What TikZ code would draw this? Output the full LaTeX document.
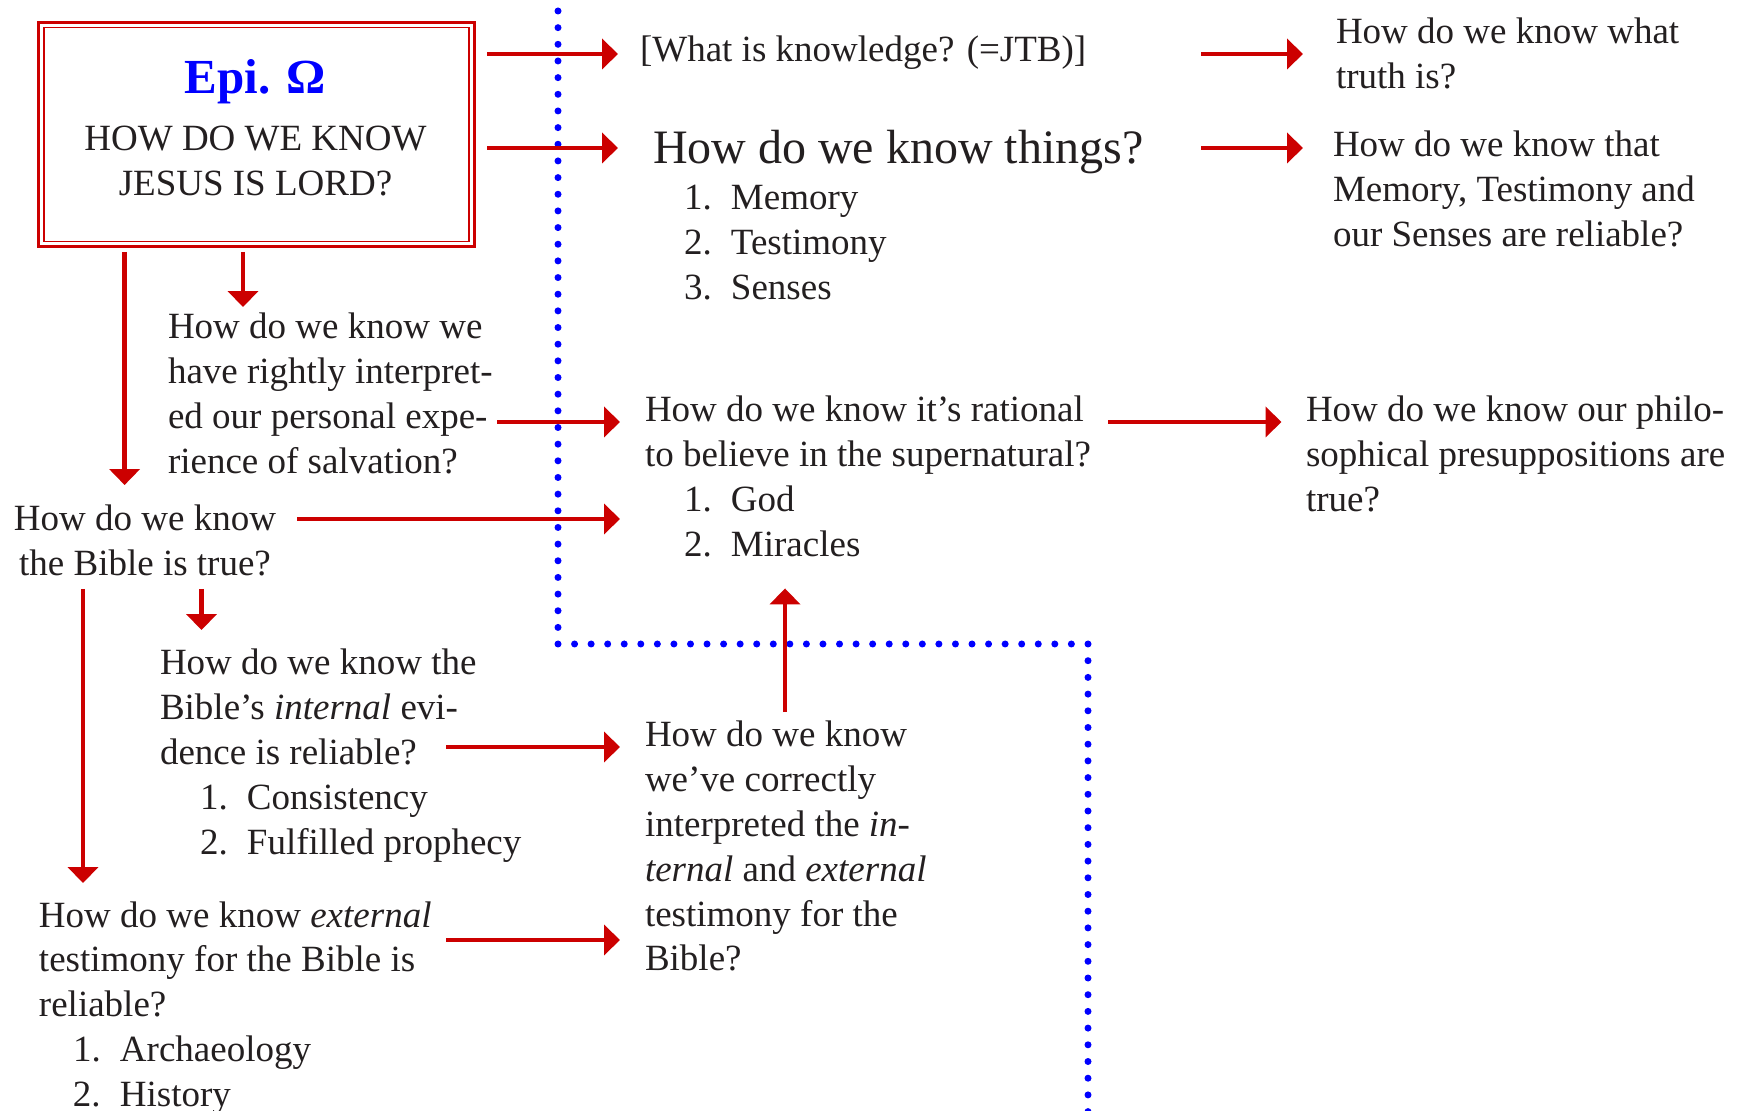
\documentclass[tikz,border=0pt]{standalone}
\usepackage{fontspec}
\setmainfont{Liberation Serif}
\usetikzlibrary{arrows.meta,calc}
\definecolor{arrred}{RGB}{204,0,0}
\definecolor{txtc}{RGB}{35,31,32}
\newcommand{\mlines}[1]{\begin{tabular}[t]{@{}l@{}}#1\end{tabular}}
\newcommand{\mlinesc}[1]{\begin{tabular}[t]{@{}c@{}}#1\end{tabular}}
\newcommand{\nb}[1]{\makebox[23.5pt][l]{#1}}
\begin{document}
\begin{tikzpicture}[x=0.5pt,y=-0.5pt,
 txt/.style={anchor=base west, inner sep=0pt, outer sep=0pt, text=txtc, font=\fontsize{18.5pt}{22.4pt}\selectfont},
 arr/.style={draw=arrred, line width=2.2pt, -{Triangle[length=8pt,width=15pt]}},
 dotline/.style={draw=blue, line width=3.5pt, line cap=round}]
\useasboundingbox (0,0) rectangle (1745,1111);

% dotted divider
\draw[dotline, dash pattern=on 0pt off 8.33pt] (558,11) -- (558,638);
\draw[dotline, dash pattern=on 0pt off 8.28pt] (558,644) -- (1080,644);
\draw[dotline, dash pattern=on 0pt off 8.35pt] (1088,644) -- (1088,1118);

% title box
\node[draw=arrred, line width=1.65pt, inner sep=0pt, outer sep=0pt, minimum width=217.9pt, minimum height=111.9pt] (box) at (256.5,134.5) {};
\draw[arrred, line width=0.75pt] ($(box.north west)+(5.2,5)$) rectangle ($(box.south east)+(-5.2,-5)$);
\node[anchor=base, inner sep=0pt, text=blue, font=\fontsize{24.5pt}{28pt}\selectfont\bfseries] (epi) at (255.5,94) {Epi. Ω};
\node[txt, anchor=base] (jesus) at (255.5,151) {\mlinesc{HOW DO WE KNOW\\JESUS IS LORD?}};

% text nodes
\node[txt] (knowl) at (640,62) {[What is knowledge? (=JTB)]};
\node[txt] (truth) at (1336,44) {\mlines{How do we know what\\truth is?}};
\node[txt, font=\fontsize{24pt}{28pt}\selectfont] (things) at (653,164) {How do we know things?};
\node[txt] (thlist) at (684,210) {\mlines{\nb{1.}Memory\\\nb{2.}Testimony\\\nb{3.}Senses}};
\node[txt] (mts) at (1333,157) {\mlines{How do we know that\\Memory, Testimony and\\our Senses are reliable?}};
\node[txt] (rightly) at (168,339) {\mlines{How do we know we\\have rightly interpret-\\ed our personal expe-\\rience of salvation?}};
\node[txt, anchor=base] (bible) at (145,531) {\mlinesc{How do we know\\the Bible is true?}};
\node[txt] (rational) at (645,422) {\mlines{How do we know it’s rational\\to believe in the supernatural?\\\hspace*{19.5pt}\nb{1.}God\\\hspace*{19.5pt}\nb{2.}Miracles}};
\node[txt] (philo) at (1306,422) {\mlines{How do we know our philo-\\sophical presuppositions are\\true?}};
\node[txt] (internal) at (160,675) {\mlines{How do we know the\\Bible’s \textit{internal} evi-\\dence is reliable?\\\hspace*{20pt}\nb{1.}Consistency\\\hspace*{20pt}\nb{2.}Fulfilled prophecy}};
\node[txt] (external) at (39,927) {\mlines{How do we know \textit{external}\\testimony for the Bible is\\reliable?\\\hspace*{17pt}\nb{1.}Archaeology\\\hspace*{17pt}\nb{2.}History}};
\node[txt] (correctly) at (645,747) {\mlines{How do we know\\we’ve correctly\\interpreted the \textit{in-}\\\textit{ternal} and \textit{external}\\testimony for the\\Bible?}};

% connectors
\draw[arr] ($(box.east|-0,54)+(12.6,0)$) -- ($(knowl.west|-0,54)+(-22,0)$);
\draw[arr] ($(box.east|-0,148)+(12.6,0)$) -- ($(things.west|-0,148)+(-35,0)$);
\draw[arr] ($(truth.west|-0,54)+(-135,0)$) -- ($(truth.west|-0,54)+(-33,0)$);
\draw[arr] ($(mts.west|-0,148)+(-132,0)$) -- ($(mts.west|-0,148)+(-30,0)$);
\draw[arr] ($(box.south)+(-13.5,5.6)$) -- ($(box.south|-rightly.north)+(-13.5,-0.6)$);
\draw[arr] ($(box.south west)+(86,5.6)$) -- ($(box.south west|-bible.north)+(86,-14.6)$);
\draw[arr] ($(rightly.west|-0,422)+(329,0)$) -- ($(rational.west|-0,422)+(-25,0)$);
\draw[arr] ($(bible.east|-0,519)+(21,0)$) -- ($(rational.west|-0,519)+(-25,0)$);
\draw[arr] ($(bible.south)+(56.5,-0.4)$) -- ($(bible.south|-internal.north)+(56.5,-13.6)$);
\draw[arr] ($(bible.south)+(-62,-0.4)$) -- ($(bible.south|-external.north)+(-62,-12.6)$);
\draw[arr] ($(internal.west|-0,747)+(286,0)$) -- ($(correctly.west|-0,747)+(-25,0)$);
\draw[arr] ($(external.west|-0,940)+(407,0)$) -- ($(correctly.west|-0,940)+(-25,0)$);
\draw[arr] ($(correctly.north west)+(140,-3.6)$) -- ($(correctly.west|-rational.south)+(140,18.6)$);
\draw[arr] ($(philo.west|-0,422)+(-198,0)$) -- ($(philo.west|-0,422)+(-24.5,0)$);
\end{tikzpicture}
\end{document}
